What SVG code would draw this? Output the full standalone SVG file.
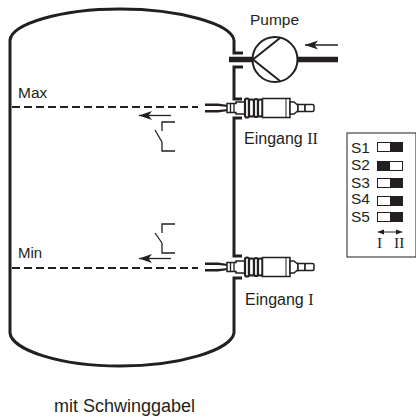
<svg xmlns="http://www.w3.org/2000/svg" width="416" height="420" viewBox="0 0 416 420">
<defs>
<style>
text{font-family:"Liberation Sans",Arial,sans-serif;font-size:15.500px;fill:#231f20}
.rm{font-family:"Liberation Serif","Times New Roman",serif}
.k{fill:none;stroke:#231f20}
.w{fill:#fff;stroke:#231f20}
.b{fill:#231f20}
</style>
<marker id="a" markerUnits="userSpaceOnUse" markerWidth="14" markerHeight="10" refX="13" refY="5" orient="auto"><path d="M13 5L0 0.500L3.500 5L0 9.500Z" fill="#231f20"/></marker>
<g id="sensor">
<path class="b" d="M-29-4.500L-16-4.500L-6-3V-1L-16-2L-29-2ZM-29 2L-16 2L-6 1V3L-16 4.500L-29 4.500Z"/>
<path class="w" stroke-width="1.500" d="M-7-4.500H2V-6H11V6H2V4.500H-7Z"/>
<path class="k" stroke-width="1.300" d="M-3.500-4.500V4.500M0-4.500V4.500"/>
<rect class="w" stroke-width="2.200" x="11" y="-9.500" width="4" height="19" rx="2"/>
<rect class="w" stroke-width="2.200" x="15" y="-8.500" width="5" height="17" rx="2"/>
<rect class="w" stroke-width="2.200" x="20" y="-9" width="4" height="18" rx="2"/>
<rect class="w" stroke-width="2.200" x="24" y="-8.500" width="4.500" height="17" rx="2"/>
<path class="w" stroke-width="1.500" d="M28.500-9.500H56V9.500H28.500Z"/>
<path class="k" stroke-width="1" d="M52-9.500V9.500"/>
<path class="w" stroke-width="1.500" d="M56-6L60-6L63-3.500H64V3.500H63L60 6H56Z"/>
<path class="w" stroke-width="1.500" d="M64-3.500H71V3.500H64Z"/>
<rect class="w" stroke-width="1.500" x="71" y="-3.500" width="9" height="7" rx="1.500"/>
</g>
</defs>
<g id="tank">
<path class="k" stroke-width="3" d="M234 40C231 24 180 9 120 9C60 9 12 24 10 40V333C12 350 60 366 120 366C180 366 231 350 234 333V278H242M242 256H234V118H242M242 99H234V67H243M243 53H234V40"/>
</g>
<g id="connectors">
<path class="k" stroke-width="2.200" stroke-dasharray="8 4" d="M12 107H198"/>
<path class="k" stroke-width="2.200" stroke-dasharray="8 4" d="M12 268H198"/>
<path class="k" stroke-width="1.300" d="M171 115.500H139" marker-end="url(#a)"/>
<path class="k" stroke-width="1.300" d="M171 258.500H139" marker-end="url(#a)"/>
<path class="k" stroke-width="1.300" d="M338 45H305" marker-end="url(#a)"/>
<path class="k" stroke-width="5.500" d="M229 59.500H253M297 59.500H338"/>
</g>
<g id="pump">
<circle class="w" stroke-width="2" cx="275" cy="59.500" r="22.500"/>
<path class="k" stroke-width="2" d="M280 38L253 59.500L280 81"/>
<text x="250" y="25">Pumpe</text>
</g>
<g id="switch-max" class="k" stroke-width="1.300"><path d="M175 122H162V131M162 142V151H175M155 130L162 142"/></g>
<g id="switch-min" class="k" stroke-width="1.300"><path d="M175 224H162V233M162 243V253H175M155 233L162 243"/></g>
<g id="sensor-2"><use href="#sensor" transform="translate(234 108)"/><text x="244" y="144" style="font-size:16px">Eingang <tspan class="rm">II</tspan></text></g>
<g id="sensor-1"><use href="#sensor" transform="translate(234 267)"/><text x="245" y="305" style="font-size:16px">Eingang <tspan class="rm">I</tspan></text></g>
<text id="max" x="18" y="98">Max</text>
<text id="min" x="18" y="258" style="font-size:15px">Min</text>
<g id="dip-switch">
<rect x="347" y="133" width="69" height="124" fill="none" stroke="#231f20" stroke-width="1"/>
<text x="351" y="153">S1</text><rect class="w" x="377.500" y="142.500" width="25" height="9"/><rect class="b" x="390" y="142" width="13" height="10"/>
<text x="351" y="170">S2</text><rect class="w" x="377.500" y="161.500" width="25" height="9"/><rect class="b" x="377" y="161" width="13" height="10"/>
<text x="351" y="188">S3</text><rect class="w" x="377.500" y="178.500" width="25" height="9"/><rect class="b" x="390" y="178" width="13" height="10"/>
<text x="351" y="204">S4</text><rect class="w" x="377.500" y="196.500" width="25" height="9"/><rect class="b" x="390" y="196" width="13" height="10"/>
<text x="351" y="222">S5</text><rect class="w" x="377.500" y="212.500" width="25" height="9"/><rect class="b" x="390" y="212" width="13" height="10"/>
<path class="k" d="M380 232H400"/><path class="b" d="M377 232L384 229.500V234.500ZM403 232L396 229.500V234.500Z"/>
<text class="rm" x="377" y="248">I</text><text class="rm" x="394" y="248">II</text>
</g>
<text id="caption" x="54" y="412" style="font-size:18px">mit Schwinggabel</text>
</svg>
